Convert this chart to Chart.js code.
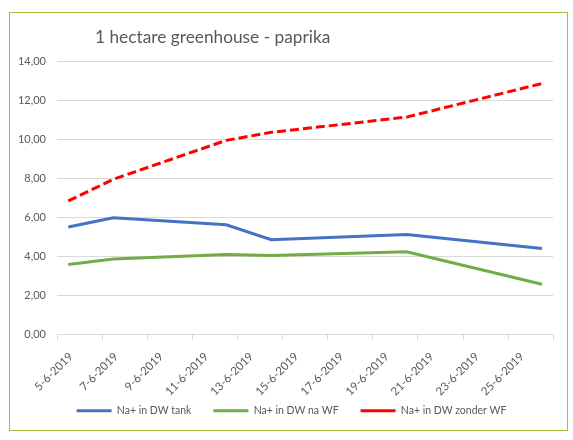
<!DOCTYPE html>
<html>
<head>
<meta charset="utf-8">
<script src="https://cdn.jsdelivr.net/npm/chart.js@4/dist/chart.umd.min.js"></script>
<style>
  html, body { margin: 0; padding: 0; background: #fff; }
  #wrap { position: relative; width: 573px; height: 440px; }
  #frame { position: absolute; left: 9px; top: 12px; width: 557px; height: 417px; border: 1.5px solid #A4BE3C; pointer-events: none; }
  #title { position: absolute; left: 95px; top: 26px; font-family: Lato, "Open Sans", sans-serif; font-size: 17.3px; color: #595959; white-space: nowrap; }
  canvas { position: absolute; left: 0; top: 0; }
</style>
</head>
<body>
<div id="wrap">
  <canvas id="c" width="573" height="440"></canvas>
  <div id="frame"></div>
  <div id="title">1 hectare greenhouse - paprika</div>
</div>
<script>
const dates = ['2019-06-05', '2019-06-07', '2019-06-12', '2019-06-14', '2019-06-20', '2019-06-26'];
const naTank = [5.51, 5.98, 5.62, 4.86, 5.12, 4.41];
const naWF = [3.59, 3.87, 4.10, 4.05, 4.24, 2.58];
const naZonderWF = [6.84, 7.95, 9.94, 10.35, 11.13, 12.85];
const xTickLabels = ['5-6-2019', '7-6-2019', '9-6-2019', '11-6-2019', '13-6-2019', '15-6-2019',
                     '17-6-2019', '19-6-2019', '21-6-2019', '23-6-2019', '25-6-2019'];
const seriesNames = ['Na+ in DW tank', 'Na+ in DW na WF', 'Na+ in DW zonder WF'];

const DAY = 86400000;
const base = Date.parse('2019-06-05');
// Excel date axis: each day occupies a slot; points sit in the middle of it
const xs = dates.map(d => (Date.parse(d) - base) / DAY + 0.5);
const pts = arr => arr.map((v, i) => ({ x: xs[i], y: v }));

const font = { family: 'Lato, "Open Sans", sans-serif', size: 11 };
const xFont = { family: 'Lato, "Open Sans", sans-serif', size: 11.5 };
const legendFont = { family: 'Lato, "Open Sans", sans-serif', size: 10.5 };

// place the legend like the original (slightly right of centre, overlapping the x-axis label box)
const legendPlace = {
  id: 'legendPlace',
  afterLayout(chart) {
    const lg = chart.legend;
    lg.left += 12;
    lg.top = 383.5;
    lg.bottom = lg.top + lg.height;
  }
};

new Chart(document.getElementById('c'), {
  type: 'line',
  data: {
    datasets: [
      { label: seriesNames[0], data: pts(naTank), borderColor: '#4472C4', backgroundColor: '#4472C4', borderWidth: 3, pointRadius: 0, tension: 0 },
      { label: seriesNames[1], data: pts(naWF), borderColor: '#70AD47', backgroundColor: '#70AD47', borderWidth: 3, pointRadius: 0, tension: 0 },
      { label: seriesNames[2], data: pts(naZonderWF), borderColor: '#FF0000', backgroundColor: '#FF0000', borderWidth: 3, borderDash: [9, 4], pointRadius: 0, tension: 0 }
    ]
  },
  plugins: [legendPlace],
  options: {
    responsive: false,
    animation: false,
    layout: { padding: { left: 10, right: 12, top: 61, bottom: -11 } },
    plugins: {
      title: { display: false },
      tooltip: { enabled: false },
      legend: {
        position: 'bottom',
        labels: {
          font: legendFont, color: '#595959',
          usePointStyle: true, pointStyle: 'line', pointStyleWidth: 35,
          padding: 22
        }
      }
    },
    scales: {
      x: {
        type: 'linear',
        min: 0, max: 22,
        afterBuildTicks: s => { s.ticks = []; for (let v = 0; v <= 22; v += 2) s.ticks.push({ value: v }); },
        ticks: {
          font: xFont, color: '#595959',
          minRotation: 45, maxRotation: 45,
          labelOffset: 14,
          autoSkip: false,
          padding: 10,
          callback: (v, i) => xTickLabels[i] !== undefined ? xTickLabels[i] : ''
        },
        grid: { drawOnChartArea: false, drawTicks: true, tickLength: 5, color: '#D9D9D9' },
        border: { color: '#D9D9D9' }
      },
      y: {
        min: 0, max: 14,
        ticks: {
          stepSize: 2, font: font, color: '#595959', padding: 11,
          callback: v => v.toFixed(2).replace('.', ',')
        },
        grid: { color: '#D9D9D9', drawTicks: false },
        border: { display: false },
        afterFit: s => { s.width = 47; }
      }
    }
  }
});
</script>
</body>
</html>
